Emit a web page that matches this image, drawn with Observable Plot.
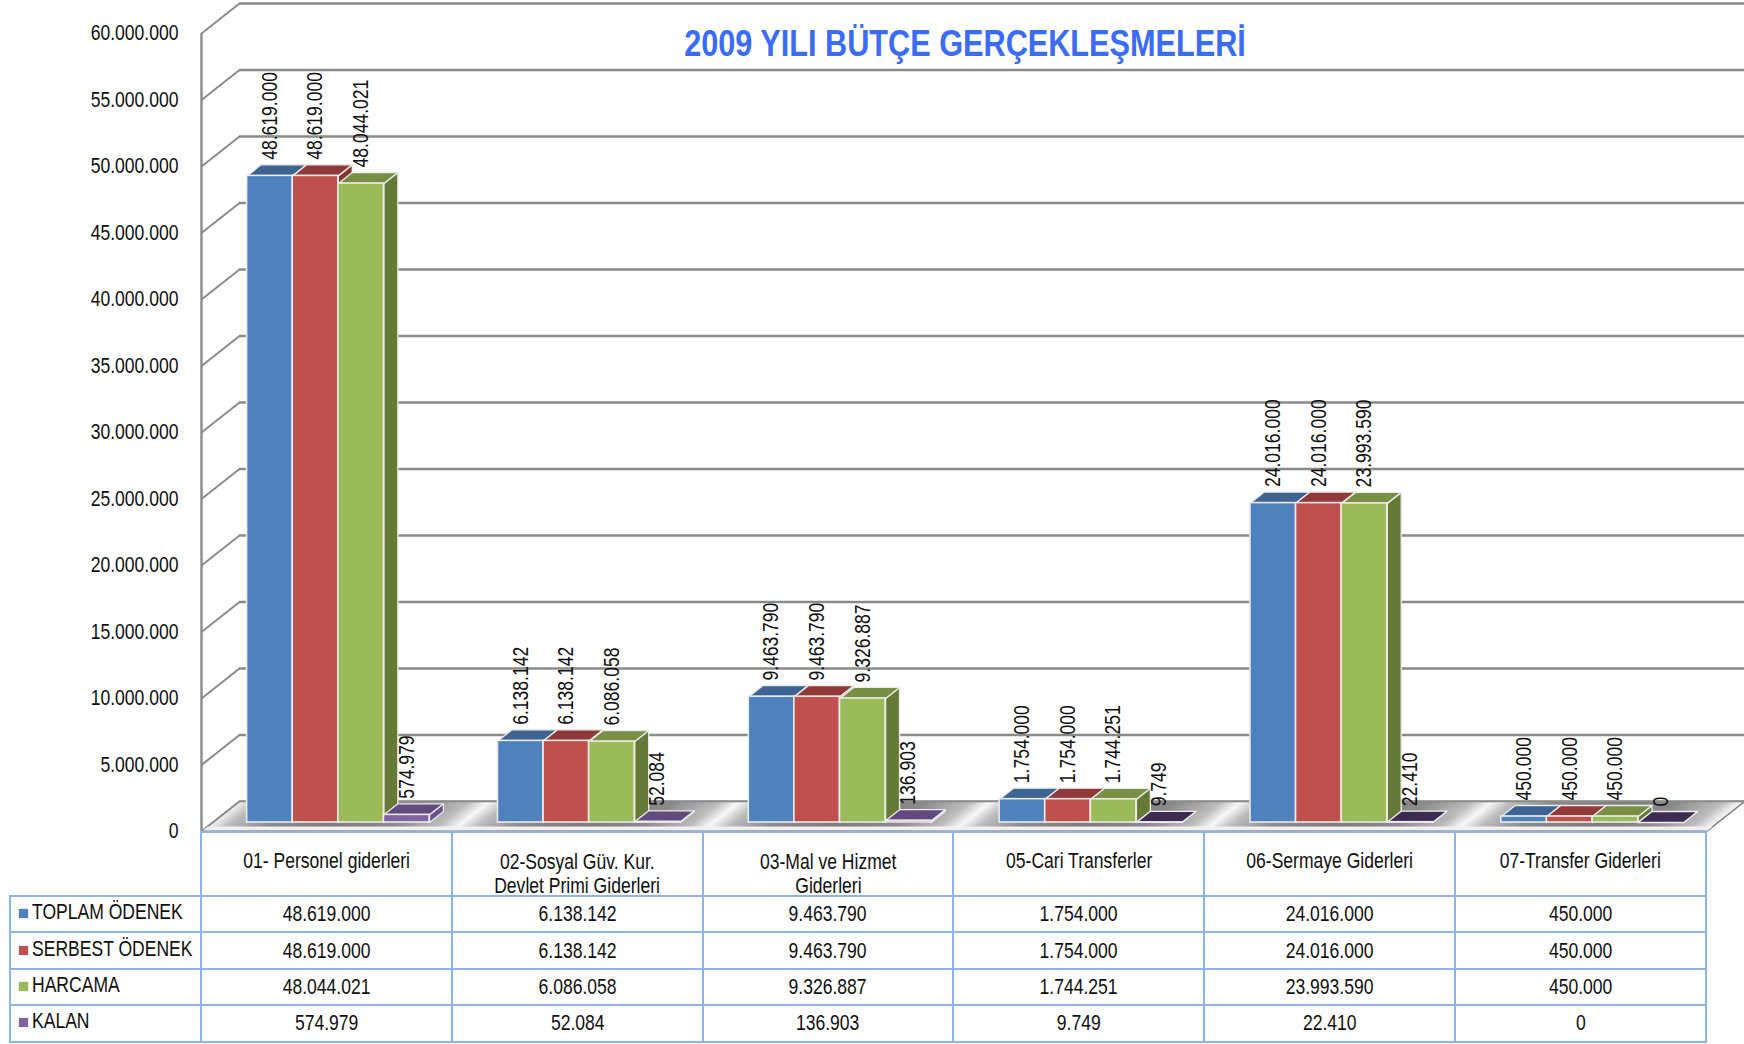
<!DOCTYPE html>
<html lang="tr">
<head>
<meta charset="utf-8">
<script src="https://cdn.jsdelivr.net/npm/d3@7"></script>
<script src="https://cdn.jsdelivr.net/npm/@observablehq/plot@0.6"></script>
<style>
  html, body { margin: 0; padding: 0; background: #fff; }
  #wrap { position: relative; width: 1744px; height: 1044px; overflow: hidden;
          font-family: "Liberation Sans", sans-serif; color: #0f0f0f; }
  #chart { position: absolute; left: 0; top: 0; }
  #title { position: absolute; left: 565px; width: 800px; top: 20px; text-align: center; white-space: nowrap;
           font-size: 37.4px; font-weight: 700; line-height: 46px; color: #3a6cf5; transform: scaleX(0.82); }
  table { position: absolute; left: 9px; top: 831px; border-collapse: collapse; table-layout: fixed;
          width: 1696px; font-size: 21.4px; }
  td { border: 2.5px solid #8db4e2; text-align: center; padding: 0; height: 36.4px; line-height: 24px; box-sizing: border-box; white-space: nowrap; }
  tr.head td { height: 64px; vertical-align: top; padding-top: 13px; }
  tr.head td span.n { position: relative; top: 3px; }
  tr.head td.two span.n { top: 4px; }
  tr.head td:first-child { border: none; border-right: 2.5px solid #8db4e2; border-bottom: 2.5px solid #8db4e2; }
  td span.n { display: inline-block; transform: scaleX(0.82); transform-origin: center; }
  td.leg { text-align: left; padding-left: 8px; overflow: visible; }
  td.leg i { display: inline-block; width: 9px; height: 9px; margin-right: 4px; vertical-align: 3px; outline: 1px solid #eee; }
  td.leg span.n { transform-origin: left center; position: relative; top: -2px; }
</style>
</head>
<body>
<div id="wrap">
  <div id="chart"></div>
  <div id="title">2009 YILI BÜTÇE GERÇEKLEŞMELERİ</div>
  <table id="tbl"></table>
</div>
<script>
const categories = ["01- Personel giderleri", "02-Sosyal Güv. Kur.\nDevlet Primi Giderleri", "03-Mal ve Hizmet\nGiderleri", "05-Cari Transferler", "06-Sermaye Giderleri", "07-Transfer Giderleri"];
const seriesNames = ["TOPLAM ÖDENEK", "SERBEST ÖDENEK", "HARCAMA", "KALAN"];
const toplamOdenek = [48619000, 6138142, 9463790, 1754000, 24016000, 450000];
const serbestOdenek = [48619000, 6138142, 9463790, 1754000, 24016000, 450000];
const harcama = [48044021, 6086058, 9326887, 1744251, 23993590, 450000];
const kalan = [574979, 52084, 136903, 9749, 22410, 0];
const yTicks = [0, 5e6, 10e6, 15e6, 20e6, 25e6, 30e6, 35e6, 40e6, 45e6, 50e6, 55e6, 60e6];

const seriesValues = [toplamOdenek, serbestOdenek, harcama, kalan];
const frontColors = ["#4f81bd", "#c0504d", "#9bbb59", "#8064a2"];
const topColors = ["#3e6494", "#8f3a38", "#778e44", "#614a7e"];
const sideColors = ["#3a5d89", "#843533", "#667a38", "#6a5389"];
const darkPurple = "#3c2c54";

const fmt = v => d3.format(",")(v).replace(/,/g, ".");

// Oblique 3D projection expressed in data units: depth 0 = front of the floor, 1 = back wall.
const depthX = 0.1515, depthY = 2255639;
const px = (x, d) => x + d * depthX;
const py = (v, d) => v + d * depthY;
const barFront = 0.3, barBack = 0.667;
const gap = 0.1364, barW = 0.1818;
const edge = "#ececec";

const poly = pts => pts.map(([x, y]) => ({x, y}));

const barMarks = [];
categories.forEach((_, i) => {
  seriesValues.forEach((vals, s) => {
    const v = vals[i];
    const x0 = i + gap + s * barW, x1 = x0 + barW;
    const small = s === 3 && v < 30000;
    const top = poly([[px(x0, barFront), py(v, barFront)], [px(x1, barFront), py(v, barFront)], [px(x1, barBack), py(v, barBack)], [px(x0, barBack), py(v, barBack)], [px(x0, barFront), py(v, barFront)]]);
    const side = poly([[px(x1, barFront), py(0, barFront)], [px(x1, barBack), py(0, barBack)], [px(x1, barBack), py(v, barBack)], [px(x1, barFront), py(v, barFront)], [px(x1, barFront), py(0, barFront)]]);
    barMarks.push(
      Plot.line(side, {x: "x", y: "y", fill: sideColors[s], stroke: edge, strokeWidth: 1.3}),
      Plot.line(top, {x: "x", y: "y", fill: small ? darkPurple : topColors[s], stroke: edge, strokeWidth: 1.3}),
      Plot.rect([{x1: px(x0, barFront), x2: px(x1, barFront), y1: py(0, barFront), y2: py(v, barFront)}],
        {x1: "x1", x2: "x2", y1: "y1", y2: "y2", fill: frontColors[s], stroke: edge, strokeWidth: 1.6})
    );
  });
});

const labels = [];
categories.forEach((_, i) => seriesValues.forEach((vals, s) => {
  labels.push({x: px(i + gap + (s + 0.5) * barW, barFront), y: py(vals[i], barBack), t: fmt(vals[i])});
}));

const gridColor = "#8a8a8a";
const floor = poly([[0, 0], [6, 0], [px(6, 1), py(0, 1)], [px(0, 1), py(0, 1)], [0, 0]]);
const rim = poly([[px(0, 0.03), py(0, 0.03)], [px(6, 0.03), py(0, 0.03)], [px(6, 0.17), py(0, 0.17)], [px(0, 0.17), py(0, 0.17)], [px(0, 0.03), py(0, 0.03)]]);

const svg = Plot.plot({
  width: 1744,
  height: 840,
  marginLeft: 201,
  marginRight: 38,
  marginTop: 33,
  marginBottom: 9,
  style: {fontFamily: '"Liberation Sans", sans-serif', background: "transparent", overflow: "visible"},
  x: {domain: [0, 6], axis: null},
  y: {domain: [0, 60e6], axis: null},
  marks: [
    Plot.ruleY(yTicks, {x1: px(0, 1), x2: px(6, 1), y: d => py(d, 1), stroke: gridColor, strokeWidth: 2.4}),
    Plot.link(yTicks, {x1: 0, x2: px(0, 1), y1: d => d, y2: d => py(d, 1), stroke: gridColor, strokeWidth: 2}),
    Plot.ruleX([0], {y1: 0, y2: 60e6, stroke: gridColor, strokeWidth: 2.4}),
    Plot.line(floor, {x: "x", y: "y", fill: "url(#floorGrad)", stroke: gridColor, strokeWidth: 1.6}),
    Plot.line(rim, {x: "x", y: "y", fill: "#f0f0f0", stroke: "none"}),
    Plot.ruleY([0], {x1: 0, x2: 6, stroke: "#909090", strokeWidth: 2}),
    ...barMarks,
    Plot.text(labels, {x: "x", y: "y", text: "t", rotate: -90, textAnchor: "start", dy: -5, fontSize: 21.4, fill: "#0f0f0f"}),
    Plot.axisY({ticks: yTicks, tickSize: 0, tickPadding: 23, tickFormat: fmt, fontSize: 21.4, label: null, color: "#0f0f0f"})
  ]
});

const ns = "http://www.w3.org/2000/svg";
const defs = document.createElementNS(ns, "defs");
defs.innerHTML = `<linearGradient id="floorGrad" gradientUnits="userSpaceOnUse" spreadMethod="repeat" x1="345" y1="0" x2="595.8" y2="0" gradientTransform="translate(1032.6,0) skewX(-51.7)">
  <stop offset="0" stop-color="#7c7c7c"/><stop offset="0.24" stop-color="#8a8a8a"/><stop offset="0.42" stop-color="#bcbcbc"/>
  <stop offset="0.5" stop-color="#f8f8f8"/><stop offset="0.58" stop-color="#bcbcbc"/><stop offset="0.74" stop-color="#8a8a8a"/><stop offset="1" stop-color="#7c7c7c"/>
</linearGradient>`;
svg.insertBefore(defs, svg.firstChild);
document.getElementById("chart").appendChild(svg);

// Narrow the text: no condensed face is installed, so compress the glyphs to Arial Narrow's proportions.
svg.querySelectorAll("text").forEach(t => {
  const len = t.getComputedTextLength();
  t.setAttribute("textLength", (len * 0.82).toFixed(1));
  t.setAttribute("lengthAdjust", "spacingAndGlyphs");
});

// Data table under the chart
const tbl = d3.select("#tbl");
const cg = tbl.append("colgroup");
cg.append("col").style("width", "191px");
categories.forEach(() => cg.append("col").style("width", "250.83px"));
const head = tbl.append("tr").attr("class", "head");
head.append("td");
categories.forEach(c => {
  const td = head.append("td").classed("two", c.includes("\n"));
  c.split("\n").forEach((line, k) => { if (k) td.append("br"); td.append("span").attr("class", "n").text(line); });
});
seriesNames.forEach((n, s) => {
  const tr = tbl.append("tr");
  const leg = tr.append("td").attr("class", "leg");
  leg.append("i").style("background", frontColors[s]);
  leg.append("span").attr("class", "n").text(n);
  seriesValues[s].forEach(v => tr.append("td").append("span").attr("class", "n").text(fmt(v)));
});
</script>
</body>
</html>
